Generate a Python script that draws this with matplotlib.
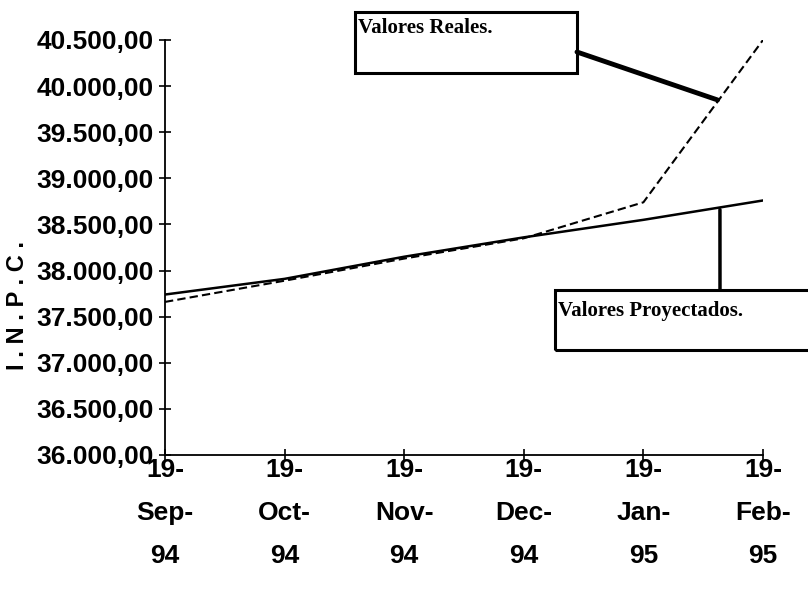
import matplotlib
matplotlib.use("Agg")
import matplotlib.pyplot as plt
from matplotlib.patches import Rectangle, ConnectionPatch
from matplotlib.ticker import FuncFormatter

# data
months = ["19-\nSep-\n94", "19-\nOct-\n94", "19-\nNov-\n94",
          "19-\nDec-\n94", "19-\nJan-\n95", "19-\nFeb-\n95"]
proyectados = [37740, 37910, 38150, 38360, 38550, 38760]
reales = [37660, 37890, 38130, 38350, 38740, 40500]
y_ticks = list(range(36000, 40501, 500))

W, H = 808, 616
fig = plt.figure(figsize=(W / 100, H / 100), dpi=100)
ax = fig.add_axes([165 / W, 1 - 455 / H, 598 / W, 415 / H])

x = list(range(len(months)))
ax.plot(x, proyectados, color="black", lw=1.8)
ax.plot(x, reales, color="black", lw=1.5, dashes=(4, 2))

ax.set_xlim(0, len(months) - 1)
ax.set_ylim(36000, 40500)
ax.set_yticks(y_ticks)
ax.set_xticks(x)
ax.set_xticklabels(months, fontsize=19, fontweight="bold",
                   family="Liberation Sans", linespacing=2.0)


def fmt(v, pos):
    s = f"{v:,.2f}"
    return s.replace(",", "X").replace(".", ",").replace("X", ".")


ax.yaxis.set_major_formatter(FuncFormatter(fmt))
for lab in ax.get_yticklabels():
    lab.set_fontsize(19)
    lab.set_fontweight("bold")
    lab.set_family("Liberation Sans")

for s in ("top", "right"):
    ax.spines[s].set_visible(False)
for s in ("left", "bottom"):
    ax.spines[s].set_linewidth(1.3)
ax.tick_params(axis="both", direction="inout", length=8, width=1.2, pad=4)
ax.tick_params(axis="x", pad=-2)

fig.text(18 / W, 1 - 305 / H, "I . N . P . C .", rotation=90, fontsize=17,
         fontweight="bold", family="Liberation Sans", ha="center", va="center")

# callout boxes
fig.add_artist(Rectangle((355 / W, 1 - 73 / H), 222 / W, 61 / H,
                         transform=fig.transFigure, fill=False, lw=2.2,
                         edgecolor="black"))
fig.text(358 / W, 1 - 28 / H, "Valores Reales.", fontsize=15, fontweight="bold",
         family="Liberation Serif", ha="left", va="center")
fig.add_artist(ConnectionPatch(xyA=(577 / W, 1 - 52 / H), coordsA=fig.transFigure,
                               xyB=(4.62, 39850), coordsB=ax.transData,
                               lw=3.5, color="black"))

fig.add_artist(Rectangle((555 / W, 1 - 350 / H), 270 / W, 60 / H,
                         transform=fig.transFigure, fill=False, lw=2.2,
                         edgecolor="black", clip_on=False))
fig.text(558 / W, 1 - 311 / H, "Valores Proyectados.", fontsize=15,
         fontweight="bold", family="Liberation Serif", ha="left", va="center")
fig.add_artist(ConnectionPatch(xyA=(720 / W, 1 - 290 / H), coordsA=fig.transFigure,
                               xyB=(4.64, 38660), coordsB=ax.transData,
                               lw=2.5, color="black"))

fig.savefig("out.png", dpi=100)
